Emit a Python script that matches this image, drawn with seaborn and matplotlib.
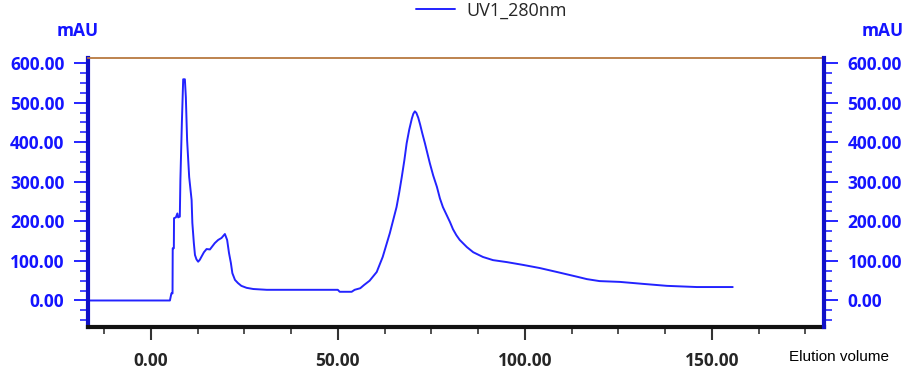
import numpy as np
import pandas as pd
import matplotlib
matplotlib.use('Agg')
import matplotlib.pyplot as plt
from matplotlib.ticker import MultipleLocator, FormatStrFormatter
import seaborn as sns

# UV trace (elution volume vs mAU)
volume = [-17, 5.1, 5.5, 5.8, 5.85, 6.15, 6.2, 6.7, 7.1, 7.3, 7.75, 7.9, 8.3, 8.65, 9.1,
          9.36, 9.7, 10.25, 10.9, 11.1, 11.5, 11.8, 12.2, 12.65, 13.1, 13.5, 14.2, 14.9,
          15.8, 17.1, 18.0, 18.9, 19.8, 20.4, 20.9, 21.4, 21.8, 22.5, 23.3, 24.2, 25.6,
          27.4, 31.0, 50.0, 50.5, 53.7, 54.5, 56.0, 57.0, 58.5, 60.4, 62.0, 63.9, 65.7,
          66.4, 67.1, 67.8, 68.4, 69.1, 69.8, 70.2, 70.6, 71.0, 71.5, 72.0, 72.6, 73.3,
          74.0, 74.6, 75.5, 76.5, 77.3, 78.1, 79.0, 80.0, 80.8, 81.7, 82.6, 84.5, 86.2,
          88.8, 91.5, 95.2, 99.5, 104.0, 108.6, 114.0, 116.6, 120.0, 125.4, 131.6, 138.0,
          146.0, 155.6]
mau = [0, 0, 18, 18, 132, 132, 208, 210, 220, 210, 212, 304, 450, 559, 559,
       514, 405, 312, 254, 196, 145, 115, 104, 98, 103, 110, 122, 130,
       129, 145, 153, 158, 168, 153, 120, 95, 69, 52, 44, 37, 32,
       29, 27, 27, 22, 22, 27, 31, 39, 50, 72, 110, 170, 236,
       272, 312, 355, 397, 432, 460, 472, 478, 474, 462, 445, 422, 397,
       370, 347, 316, 287, 258, 236, 218, 198, 180, 165, 153, 135, 122,
       110, 102, 97, 90, 82, 72, 60, 54, 49, 47, 42, 37,
       34, 34]

y_ticks = [0, 100, 200, 300, 400, 500, 600]
x_ticks = [0, 50, 100, 150]

df = pd.DataFrame({'Elution volume': volume, 'UV1_280nm': mau})

blue = '#1414ff'
line_blue = '#2323ff'
brown = '#b87a40'

sns.set_style('white')
plt.rcParams['font.family'] = ['Open Sans', 'DejaVu Sans']

fig = plt.figure(figsize=(9.13, 3.70), dpi=100)
ax = fig.add_axes([0.0964, 0.1162, 0.8061, 0.7262])

sns.lineplot(data=df, x='Elution volume', y='UV1_280nm', sort=False, estimator=None,
             color=line_blue, linewidth=1.4, ax=ax, label='UV1_280nm')

ax.set_xlim(-16.8, 180)
ax.set_ylim(-67, 612)
ax.set_xticks(x_ticks)
ax.set_yticks(y_ticks)
ax.xaxis.set_minor_locator(MultipleLocator(12.5))
ax.yaxis.set_minor_locator(MultipleLocator(25))
ax.xaxis.set_major_formatter(FormatStrFormatter('%.2f'))
ax.yaxis.set_major_formatter(FormatStrFormatter('%.2f'))
ax.set_xlabel('')
ax.set_ylabel('')

ax.tick_params(axis='x', which='major', direction='out', length=9, width=1.5,
               color='#333333', pad=9, labelsize=12.5, bottom=True)
ax.tick_params(axis='x', which='minor', direction='out', length=5, width=1.2,
               color='#333333', bottom=True)
ax.tick_params(axis='y', which='major', direction='out', length=10, width=1.3,
               color=blue, labelcolor=blue, pad=7, labelsize=12.5, left=True)
ax.tick_params(axis='y', which='minor', direction='out', length=6, width=1.1,
               color=blue, left=True)
for lab in ax.get_xticklabels() + ax.get_yticklabels():
    lab.set_fontweight('bold')

ax2 = ax.twinx()
ax2.set_ylim(ax.get_ylim())
ax2.set_yticks(y_ticks)
ax2.yaxis.set_minor_locator(MultipleLocator(25))
ax2.yaxis.set_major_formatter(FormatStrFormatter('%.2f'))
ax2.tick_params(axis='y', which='major', direction='out', length=10, width=1.3,
                color=blue, labelcolor=blue, pad=7, labelsize=12.5, right=True)
ax2.tick_params(axis='y', which='minor', direction='out', length=6, width=1.1,
                color=blue, right=True)
for lab in ax2.get_yticklabels():
    lab.set_fontweight('bold')

for a in (ax, ax2):
    for s in a.spines.values():
        s.set_visible(False)
ax.spines['top'].set_visible(True)
ax.spines['top'].set_color(brown)
ax.spines['top'].set_linewidth(1.3)
ax.spines['left'].set_visible(True)
ax.spines['left'].set_color('#1010c8')
ax.spines['left'].set_linewidth(3)
ax.spines['bottom'].set_visible(True)
ax.spines['bottom'].set_color('#111111')
ax.spines['bottom'].set_linewidth(3)
ax2.spines['right'].set_visible(True)
ax2.spines['right'].set_color('#1010c8')
ax2.spines['right'].set_linewidth(3)

handles, labels = ax.get_legend_handles_labels()
ax.get_legend().remove()
fig.legend(handles, labels, loc='center', bbox_to_anchor=(0.538, 0.972), frameon=False,
           fontsize=13, handlelength=2.2, handletextpad=0.6, borderpad=0)

fig.text(78 / 913, 1 - 31 / 370, 'mAU', color=blue, fontsize=12.5, fontweight='bold',
         ha='center', va='center')
fig.text(883 / 913, 1 - 31 / 370, 'mAU', color=blue, fontsize=12.5, fontweight='bold',
         ha='center', va='center')
fig.text(839 / 913, 1 - 357 / 370, 'Elution volume', color='black', fontsize=11,
         ha='center', va='center', family=['Liberation Sans', 'DejaVu Sans'])

fig.savefig('out.png', dpi=100)
